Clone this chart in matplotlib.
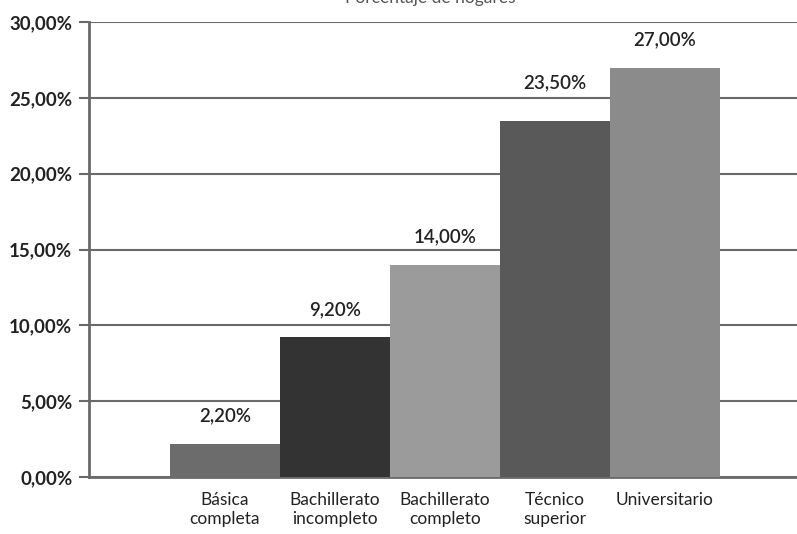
import matplotlib
matplotlib.use("Agg")
import matplotlib.pyplot as plt
from matplotlib.ticker import FuncFormatter

categories = ["Básica\ncompleta", "Bachillerato\nincompleto", "Bachillerato\ncompleto", "Técnico\nsuperior", "Universitario"]
values = [2.20, 9.20, 14.00, 23.50, 27.00]
colors = ["#6c6c6c", "#333333", "#9b9b9b", "#595959", "#8b8b8b"]
yticks = [0, 5, 10, 15, 20, 25, 30]
title = "Porcentaje de hogares"

plt.rcParams['font.family'] = ['Lato', 'DejaVu Sans']

fig = plt.figure(figsize=(7.97, 5.34), dpi=100)
ax = fig.add_axes([89/797, 57/534, 1 - 89/797, 455/534])

x = list(range(len(values)))
ax.bar(x, values, width=1.0, color=colors, zorder=3)
for xi, v in zip(x, values):
    y = v + 1.85
    nearest = round(y / 5) * 5
    if abs(y - nearest) < 0.7:
        y = nearest + 1.0  # keep label clear of the gridline
    ax.text(xi, y, f"{v:.2f}".replace(".", ",") + "%", ha="center", va="center",
            fontsize=13.5, fontweight="semibold", color="#222222", zorder=4)

ax.set_xlim(-1.236, 5.2)
ax.set_ylim(0, 30)
ax.set_yticks(yticks)
ax.yaxis.set_major_formatter(FuncFormatter(lambda v, p: f"{v:.2f}".replace(".", ",") + "%"))
ax.grid(axis="y", color="#6a6a6a", linewidth=1.5, zorder=1)
ax.set_xticks(x)
ax.set_xticklabels(categories, fontsize=12.5, color="#222222", linespacing=1.2)
ax.tick_params(axis="x", length=0, pad=11)
ax.tick_params(axis="y", length=7, width=1.5, color="#6a6a6a", labelsize=13.5,
               labelcolor="#222222", pad=5)
for lab in ax.get_yticklabels():
    lab.set_fontweight("bold")
for s in ["top", "right"]:
    ax.spines[s].set_visible(False)
ax.spines["left"].set_color("#6a6a6a")
ax.spines["left"].set_linewidth(2)
ax.spines["bottom"].set_color("#6a6a6a")
ax.spines["bottom"].set_linewidth(2)

fig.text(0.54, 1.003, title, ha="center", va="center", fontsize=12.5, color="#555555")

fig.savefig("out.png", dpi=100)
